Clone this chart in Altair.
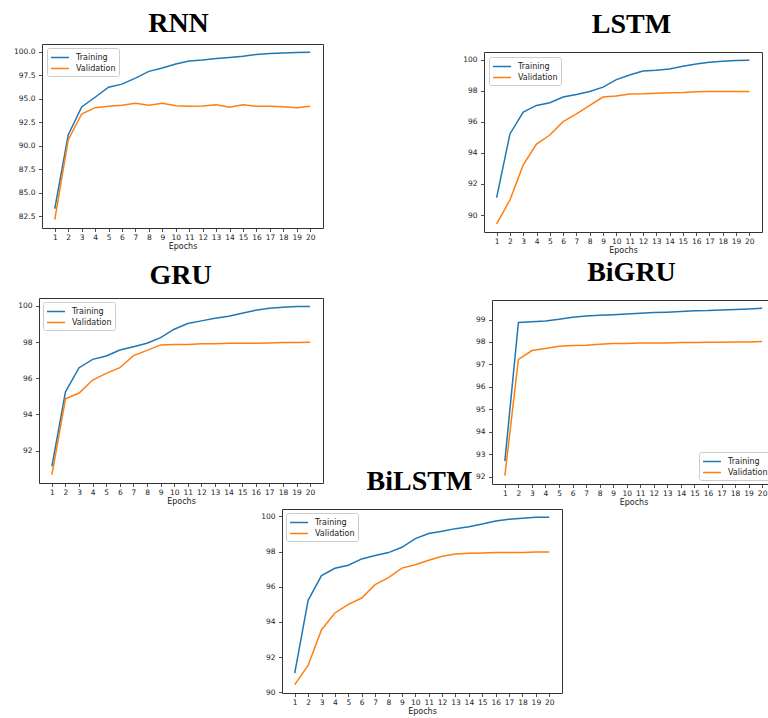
import altair as alt
import pandas as pd

epochs = list(range(1, 21))

rnn_train = [83.30, 91.16, 94.14, 95.17, 96.24, 96.57, 97.21, 97.93, 98.28, 98.71,
             99.03, 99.14, 99.29, 99.40, 99.54, 99.72, 99.82, 99.89, 99.93, 99.95]
rnn_val = [82.14, 90.63, 93.39, 94.06, 94.20, 94.31, 94.52, 94.31, 94.52, 94.27,
           94.20, 94.24, 94.38, 94.10, 94.38, 94.20, 94.20, 94.17, 94.06, 94.20]

lstm_train = [91.12, 95.22, 96.62, 97.05, 97.22, 97.59, 97.76, 97.95, 98.23, 98.71,
              99.01, 99.27, 99.31, 99.40, 99.57, 99.72, 99.83, 99.89, 99.94, 99.96]
lstm_val = [89.44, 90.97, 93.23, 94.57, 95.15, 96.01, 96.51, 97.05, 97.59, 97.65,
            97.78, 97.80, 97.84, 97.87, 97.89, 97.93, 97.95, 97.95, 97.95, 97.95]

gru_train = [91.13, 95.25, 96.58, 97.04, 97.23, 97.56, 97.74, 97.93, 98.24, 98.71,
             99.02, 99.17, 99.32, 99.43, 99.59, 99.76, 99.87, 99.93, 99.96, 99.97]
gru_val = [90.67, 94.86, 95.18, 95.90, 96.27, 96.58, 97.25, 97.54, 97.84, 97.87,
           97.87, 97.91, 97.91, 97.93, 97.93, 97.93, 97.95, 97.97, 97.97, 97.99]

bigru_train = [92.69, 98.87, 98.90, 98.94, 99.01, 99.10, 99.16, 99.19, 99.22, 99.25,
               99.28, 99.31, 99.33, 99.36, 99.39, 99.40, 99.43, 99.45, 99.47, 99.50]
bigru_val = [92.04, 97.22, 97.62, 97.71, 97.81, 97.84, 97.86, 97.90, 97.93, 97.93,
             97.95, 97.96, 97.96, 97.98, 97.98, 97.99, 97.99, 98.00, 98.00, 98.02]

bilstm_train = [91.10, 95.23, 96.63, 97.05, 97.22, 97.58, 97.77, 97.94, 98.24, 98.73,
                99.02, 99.15, 99.30, 99.41, 99.56, 99.73, 99.83, 99.89, 99.94, 99.94]
bilstm_val = [90.44, 91.53, 93.56, 94.51, 95.00, 95.36, 96.12, 96.52, 97.06, 97.25,
              97.50, 97.73, 97.86, 97.90, 97.92, 97.94, 97.95, 97.95, 97.97, 97.97]

series_names = ["Training", "Validation"]
series_colors = ["#1f77b4", "#ff7f0e"]

rnn_ticks = [82.5, 85.0, 87.5, 90.0, 92.5, 95.0, 97.5, 100.0]
lstm_ticks = [90, 92, 94, 96, 98, 100]
gru_ticks = [92, 94, 96, 98, 100]
bigru_ticks = [92, 93, 94, 95, 96, 97, 98, 99]
bilstm_ticks = [90, 92, 94, 96, 98, 100]

W, H = 768, 718
INK = "#222222"
FRAME = "#333333"


def panel(name, train, val, yticks, yfmt, box, title_pos, legend_pos):
    """box = (left, top, right, bottom) of the plot frame in page pixels."""
    left, top, right, bottom = box
    df = pd.DataFrame({
        "Epoch": epochs + epochs,
        "Accuracy": train + val,
        "Series": [series_names[0]] * len(train) + [series_names[1]] * len(val),
    })
    lo = min(train + val)
    hi = max(train + val)
    m = 0.05 * (hi - lo)
    xs = alt.Scale(domain=[0.05, 20.95], range=[left, right], nice=False, zero=False)
    ys = alt.Scale(domain=[lo - m, hi + m], range=[bottom, top], nice=False, zero=False)
    base = alt.Chart(df)
    lines = base.mark_line(strokeWidth=1.5).encode(
        x=alt.X("Epoch:Q", scale=xs,
                axis=alt.Axis(orient="bottom", offset=bottom - H, values=epochs,
                              format="d", title="Epochs", labelOverlap=False,
                              labelFlush=False, labelPadding=1.5, titlePadding=2)),
        y=alt.Y("Accuracy:Q", scale=ys,
                axis=alt.Axis(orient="left", offset=-left, values=yticks, format=yfmt,
                              title=None, labelOverlap=False, labelFlush=False,
                              labelPadding=3.5)),
        color=alt.Color("Series:N",
                        scale=alt.Scale(domain=series_names, range=series_colors),
                        legend=alt.Legend(title=None, orient="none",
                                          legendX=legend_pos[0], legendY=legend_pos[1],
                                          padding=3, cornerRadius=2,
                                          strokeColor="#cccccc", fillColor="white",
                                          symbolType="M-1,0L2.27,0", symbolSize=121,
                                          symbolStrokeWidth=1.5, labelOffset=13,
                                          rowPadding=0, labelFontSize=8,
                                          labelFont="DejaVu Sans", labelColor=INK)),
    )
    frame = base.mark_line(opacity=0).encode(
        x=alt.X("Epoch:Q", scale=xs,
                axis=alt.Axis(orient="top", offset=-top, labels=False, ticks=False,
                              title=name, titleX=title_pos[0], titleY=title_pos[1] - top,
                              titleFont="Liberation Serif", titleFontSize=28,
                              titleFontWeight="bold", titleColor="black",
                              titleBaseline="alphabetic", titleAlign="center")),
        y=alt.Y("Accuracy:Q", scale=ys,
                axis=alt.Axis(orient="right", offset=right - W, labels=False,
                              ticks=False, title=None)),
    )
    return [lines, frame]


layers = []
layers += panel("RNN", rnn_train, rnn_val, rnn_ticks, ".1f",
                (42, 44, 323, 228), (178, 31.7), (47, 48))
layers += panel("LSTM", lstm_train, lstm_val, lstm_ticks, "d",
                (484, 52, 762, 232), (631, 32.7), (489, 57))
layers += panel("GRU", gru_train, gru_val, gru_ticks, "d",
                (39, 298, 323, 483), (180, 283.3), (43, 302))
layers += panel("BiGRU", bigru_train, bigru_val, bigru_ticks, "d",
                (492, 300, 775, 484), (631, 280.7), (699, 452))
layers += panel("BiLSTM", bilstm_train, bilstm_val, bilstm_ticks, "d",
                (282, 509, 562, 693), (419, 489.3), (286, 513))

chart = alt.layer(*layers).resolve_scale(
    x="independent", y="independent", color="independent"
).resolve_axis(
    x="independent", y="independent"
).resolve_legend(
    color="independent"
).properties(
    width=W, height=H, padding=0,
    autosize=alt.AutoSizeParams(type="none"),
    background="white",
).configure_view(
    strokeWidth=0
).configure_axis(
    grid=False, domain=True, domainColor=FRAME, domainWidth=1,
    labelFont="DejaVu Sans", labelFontSize=7.5, labelColor=INK,
    tickColor=INK, tickSize=3.5, tickWidth=0.8,
    titleFont="DejaVu Sans", titleFontSize=8, titleFontWeight="normal",
    titleColor=INK,
)

chart.save("out.html", embed_options={"renderer": "svg", "actions": False})
